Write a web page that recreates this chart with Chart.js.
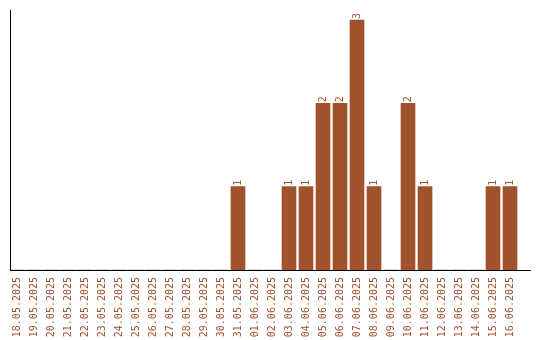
<!DOCTYPE html>
<html lang="en">
<head>
    <meta charset="UTF-8">
    <title>Daily count</title>
    <script src="https://cdn.jsdelivr.net/npm/chart.js@4.4.0/dist/chart.umd.min.js"></script>
    <style>
        body {
            margin: 0;
            background: #ffffff;
        }
        #wrap {
            width: 540px;
            height: 340px;
        }
    </style>
</head>
<body>
    <div id="wrap"><canvas id="chart" width="540" height="340"></canvas></div>

    <script>
        // dates shown on the x axis
        const days = [
            '18.05.2025', '19.05.2025', '20.05.2025', '21.05.2025', '22.05.2025',
            '23.05.2025', '24.05.2025', '25.05.2025', '26.05.2025', '27.05.2025',
            '28.05.2025', '29.05.2025', '30.05.2025', '31.05.2025', '01.06.2025',
            '02.06.2025', '03.06.2025', '04.06.2025', '05.06.2025', '06.06.2025',
            '07.06.2025', '08.06.2025', '09.06.2025', '10.06.2025', '11.06.2025',
            '12.06.2025', '13.06.2025', '14.06.2025', '15.06.2025', '16.06.2025'
        ];
        // count per day
        const counts = [
            0, 0, 0, 0, 0,
            0, 0, 0, 0, 0,
            0, 0, 0, 1, 0,
            0, 1, 1, 2, 2,
            3, 1, 0, 2, 1,
            0, 0, 0, 1, 1
        ];

        const barColor = '#a0522d';
        const monoFont = 'DejaVu Sans Mono';

        // black axis lines on the left and bottom
        const axisLines = {
            id: 'axisLines',
            afterDraw(chart) {
                const ctx = chart.ctx;
                const area = chart.chartArea;
                ctx.save();
                ctx.fillStyle = '#000000';
                ctx.fillRect(10, area.top, 1, area.bottom - area.top);
                ctx.fillRect(10, area.bottom, 521, 1);
                ctx.restore();
            }
        };

        // value written vertically above each bar
        const valueLabels = {
            id: 'valueLabels',
            afterDatasetsDraw(chart) {
                const ctx = chart.ctx;
                const meta = chart.getDatasetMeta(0);
                ctx.save();
                ctx.fillStyle = barColor;
                ctx.font = '10px ' + monoFont;
                ctx.textAlign = 'left';
                ctx.textBaseline = 'middle';
                meta.data.forEach((bar, i) => {
                    if (!counts[i]) return;
                    ctx.save();
                    ctx.translate(bar.x, bar.y - 1);
                    ctx.rotate(-Math.PI / 2);
                    ctx.fillText(String(counts[i]), 0, 0);
                    ctx.restore();
                });
                ctx.restore();
            }
        };

        new Chart(document.getElementById('chart'), {
            type: 'bar',
            data: {
                labels: days,
                datasets: [{
                    data: counts,
                    backgroundColor: barColor,
                    borderWidth: 0,
                    barThickness: 14
                }]
            },
            options: {
                responsive: false,
                animation: false,
                layout: {
                    padding: { left: 8.5, right: 21.5, top: 10, bottom: 0 }
                },
                plugins: {
                    legend: { display: false },
                    tooltip: { enabled: false }
                },
                scales: {
                    x: {
                        grid: { display: false, drawTicks: false },
                        border: { display: false },
                        ticks: {
                            color: barColor,
                            font: { family: monoFont, size: 10 },
                            autoSkip: false,
                            minRotation: 90,
                            maxRotation: 90,
                            padding: 7
                        },
                        afterFit(scale) {
                            scale.height = 70;
                        }
                    },
                    y: {
                        display: false,
                        min: 0,
                        max: 3.12
                    }
                }
            },
            plugins: [axisLines, valueLabels]
        });
    </script>
</body>
</html>
